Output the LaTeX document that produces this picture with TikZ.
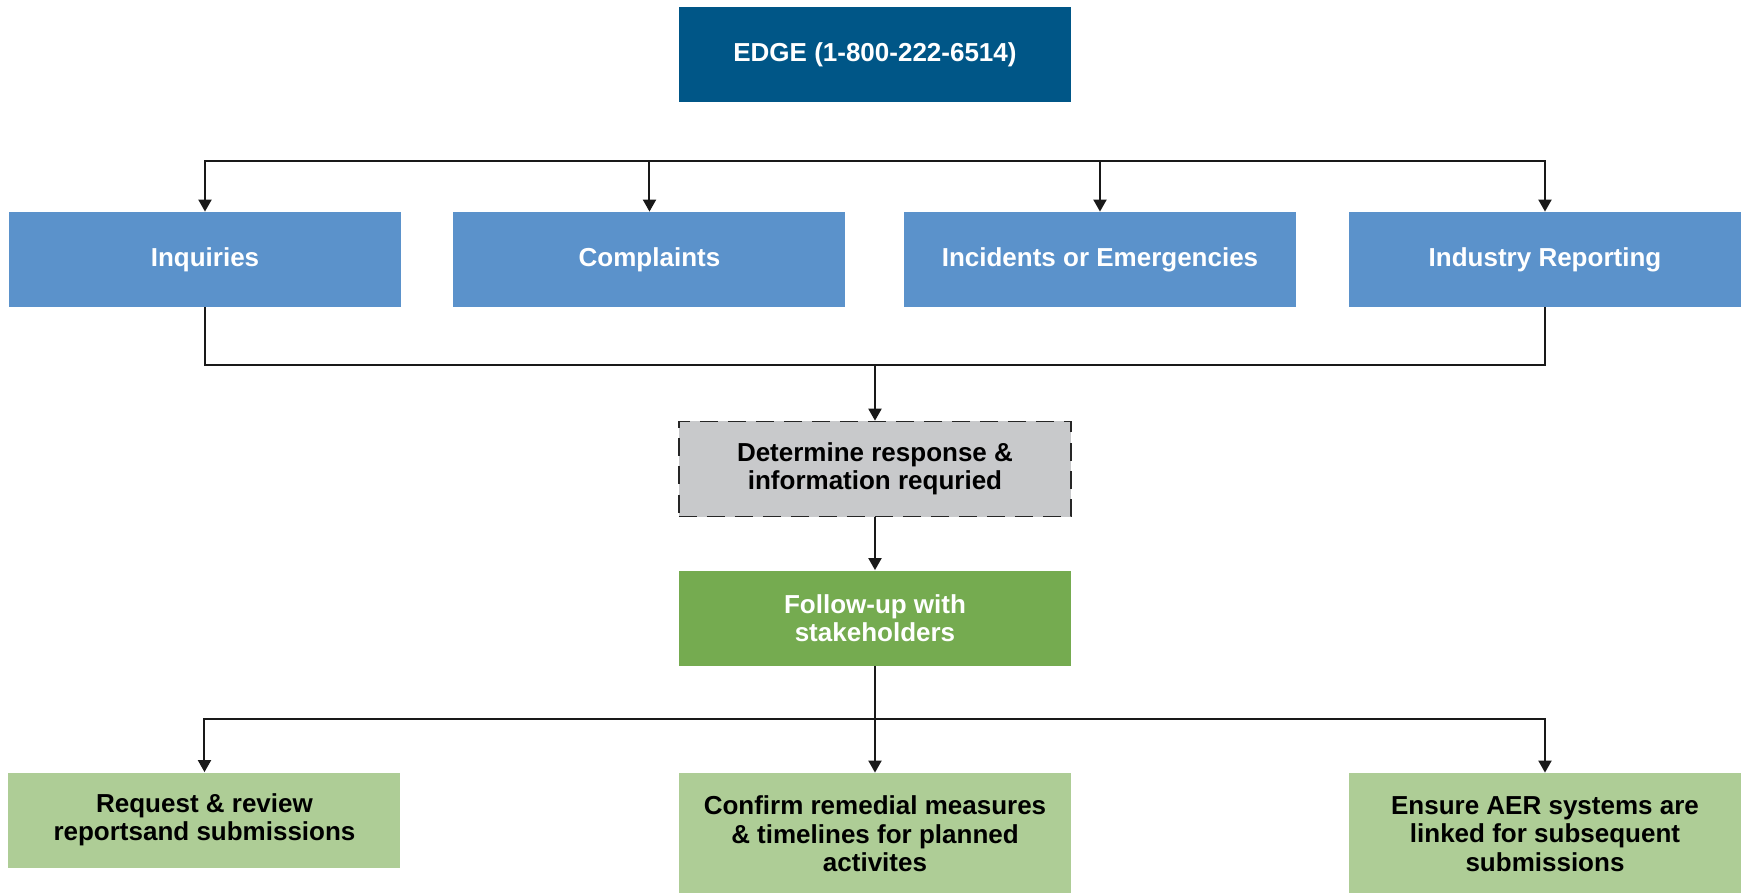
\documentclass[tikz,border=0pt]{standalone}
\usepackage{fontspec}
\setmainfont{Liberation Sans}
\usepackage{xcolor}
\usepackage{tikz}
\usetikzlibrary{shapes,arrows,positioning,calc,arrows.meta}

\definecolor{edgeblue}{RGB}{0,86,135}
\definecolor{topicblue}{RGB}{91,146,203}
\definecolor{checkgray}{RGB}{200,201,203}
\definecolor{followgreen}{RGB}{117,171,80}
\definecolor{taskgreen}{RGB}{174,205,150}

\tikzset{
    block/.style={rectangle, minimum width=196pt, minimum height=47.5pt, inner sep=0pt,
        align=center, font=\bfseries\fontsize{13}{14.2}\selectfont},
    hotline/.style={block, fill=edgeblue, text=white},
    topic/.style={block, fill=topicblue, text=white},
    check/.style={block, fill=checkgray, draw=black!85, line width=0.8pt, dash pattern=on 9pt off 5pt},
    follow/.style={block, fill=followgreen, text=white},
    task/.style={block, fill=taskgreen, text=black},
    arr/.style={-{Triangle[width=6.5pt,length=6pt]}, line width=1pt, black!90},
    wire/.style={line width=1pt, black!90}
}

\begin{document}
\begin{tikzpicture}
    \useasboundingbox (-437.5pt,27.25pt) rectangle (435.5pt,-419.25pt);

    \node (edge) [hotline] {EDGE (1-800-222-6514)};

    \node (inq) [topic, below of=edge, node distance=102.5pt, xshift=-335pt] {Inquiries};
    \node (comp) [topic, below of=edge, node distance=102.5pt, xshift=-112.75pt] {Complaints};
    \node (inc) [topic, below of=edge, node distance=102.5pt, xshift=112.5pt] {Incidents or Emergencies};
    \node (ind) [topic, below of=edge, node distance=102.5pt, xshift=335pt] {Industry Reporting};

    \node (det) [check, below of=edge, node distance=207.25pt] {Determine response \&\\ information requried};
    \node (fol) [follow, below of=det, node distance=74.5pt] {Follow-up with\\ stakeholders};

    \node (req) [task, below of=fol, node distance=101pt, xshift=-335.25pt] {Request \& review\\ reportsand submissions};
    \node (con) [task, below of=fol, node distance=108pt, minimum height=61pt] {Confirm remedial measures\\ \& timelines for planned\\ activites};
    \node (ens) [task, below of=fol, node distance=108pt, xshift=335pt, minimum height=61pt] {Ensure AER systems are\\ linked for subsequent\\ submissions};

    \coordinate [below of=edge, node distance=53.25pt] (topbus);
    \coordinate [below of=edge, node distance=155.25pt] (midbus);
    \coordinate [below of=fol, node distance=50.5pt] (lowbus);

    \draw[arr] (topbus) -| (inq);
    \draw[arr] (topbus) -| (comp);
    \draw[arr] (topbus) -| (inc);
    \draw[arr] (topbus) -| (ind);

    \draw[wire] (inq) |- (midbus);
    \draw[wire] (ind) |- (midbus);
    \draw[arr] (midbus) -- (det);

    \draw[arr] (det) -- (fol);

    \draw[arr] (fol) -- (con);
    \draw[arr] (lowbus) -| (req);
    \draw[arr] (lowbus) -| (ens);
\end{tikzpicture}
\end{document}
